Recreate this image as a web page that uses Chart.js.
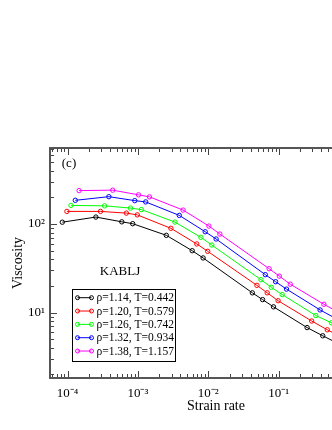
<!DOCTYPE html>
<html><head><meta charset="utf-8">
<script src="https://cdn.jsdelivr.net/npm/chart.js@4"></script>
<style>html,body{margin:0;padding:0;background:#fff;overflow:hidden;width:332px;height:430px}canvas{display:block}</style>
</head><body><canvas id="c" width="390" height="430"></canvas>
<script>
const seriesLabels = ['ρ=1.14, T=0.442','ρ=1.20, T=0.579','ρ=1.26, T=0.742','ρ=1.32, T=0.934','ρ=1.38, T=1.157'];
const seriesColors = ['#000000','#ff0000','#00ff00','#0000ff','#ff00ff'];

const rate114 = [8.43e-5, 2.53e-4, 5.9e-4, 8.43e-4, 2.53e-3, 5.9e-3, 8.43e-3, 4.22e-2, 5.9e-2, 8.43e-2, 0.253, 0.422, 0.843];
const visc114 = [105, 120, 106, 101, 74.6, 50.0, 41.4, 16.7, 14.0, 11.6, 6.76, 5.46, 4.14];

const rate120 = [9.8e-5, 2.94e-4, 6.86e-4, 9.8e-4, 2.94e-3, 6.86e-3, 9.8e-3, 4.9e-2, 6.86e-2, 9.8e-2, 0.294, 0.49, 0.98];
const visc120 = [139, 139, 133, 127, 89.5, 59.6, 49.2, 20.3, 16.7, 13.6, 8.02, 6.38, 4.83];

const rate126 = [1.12e-4, 3.36e-4, 7.84e-4, 1.12e-3, 3.36e-3, 7.84e-3, 1.12e-2, 5.6e-2, 7.84e-2, 0.112, 0.336, 0.56, 1.12];
const visc126 = [162.5, 160.7, 151.5, 145.7, 105.3, 70.8, 57.9, 23.5, 19.3, 15.96, 9.25, 7.66, 5.75];

const rate132 = [1.29e-4, 3.87e-4, 9.03e-4, 1.29e-3, 3.87e-3, 9.03e-3, 1.29e-2, 6.45e-2, 9.03e-2, 0.129, 0.387, 0.645, 1.29];
const visc132 = [185.5, 204, 184, 178, 125.3, 81.9, 67.8, 26.8, 22.3, 18.4, 10.7, 8.57, 6.52];

const rate138 = [1.46e-4, 4.38e-4, 1.02e-3, 1.46e-3, 4.38e-3, 1.02e-2, 1.46e-2, 7.3e-2, 0.102, 0.146, 0.438, 0.73, 1.46];
const visc138 = [239, 241.6, 214, 203, 143.9, 94.9, 77.1, 31.3, 25.8, 20.9, 12.4, 9.92, 7.53];

const rates = [rate114, rate120, rate126, rate132, rate138];
const viscs = [visc114, visc120, visc126, visc132, visc138];

const xDecades = [-4, -3, -2, -1, 0];
const xDecadeLabels = ['10⁻⁴', '10⁻³', '10⁻²', '10⁻¹', '10⁰'];
const yDecades = [0, 1, 2];
const yDecadeLabels = ['10⁰', '10¹', '10²'];

const serif = 'Liberation Serif';

function logTicks(scale) {
  const t = [];
  for (let e = -6; e <= 3; e++) {
    for (let m = 1; m <= 9; m++) {
      const v = m * Math.pow(10, e);
      if (v >= scale.min * 0.999999 && v <= scale.max * 1.000001) t.push({ value: v });
    }
  }
  scale.ticks = t;
}
function isDecade(v) {
  const l = Math.log10(v);
  return Math.abs(l - Math.round(l)) < 1e-6;
}

const datasets = rates.map((r, i) => ({
  label: seriesLabels[i],
  data: r.map((x, j) => ({ x: x, y: viscs[i][j] })),
  borderColor: seriesColors[i],
  backgroundColor: 'rgba(0,0,0,0)',
  borderWidth: 1,
  pointRadius: 2.2,
  pointBorderWidth: 1,
  pointStyle: 'circle',
  tension: 0,
  showLine: true
}));

const decor = {
  id: 'decor',
  afterDraw(chart) {
    const ctx = chart.ctx;
    const a = chart.chartArea;
    const xs = chart.scales.x, ys = chart.scales.y;
    ctx.save();
    ctx.strokeStyle = '#444';
    ctx.lineWidth = 1;
    ctx.beginPath();
    xs.ticks.forEach(t => {
      const px = Math.round(xs.getPixelForValue(t.value)) + 0.5;
      const L = isDecade(t.value) ? 7 : 4;
      ctx.moveTo(px, a.bottom); ctx.lineTo(px, a.bottom - L);
      ctx.moveTo(px, a.top); ctx.lineTo(px, a.top + L);
    });
    ys.ticks.forEach(t => {
      const py = Math.round(ys.getPixelForValue(t.value)) + 0.5;
      const L = isDecade(t.value) ? 7 : 4;
      ctx.moveTo(a.left, py); ctx.lineTo(a.left + L, py);
      ctx.moveTo(a.right, py); ctx.lineTo(a.right - L, py);
    });
    ctx.stroke();
    ctx.strokeStyle = '#555';
    ctx.lineWidth = 2;
    ctx.strokeRect(a.left, a.top, a.right - a.left, a.bottom - a.top);

    ctx.fillStyle = '#000';
    ctx.textAlign = 'center';
    ctx.textBaseline = 'middle';
    ctx.font = '13px "' + serif + '"';
    ctx.fillText('(c)', a.left + 19, a.top + 16);
    ctx.fillText('KABLJ', a.left + 70, a.top + 124);

    const bx = 72.5, by = 289.5, bw = 103, bh = 72;
    ctx.fillStyle = '#fff';
    ctx.fillRect(bx, by, bw, bh);
    ctx.strokeStyle = '#000';
    ctx.lineWidth = 1;
    ctx.strokeRect(bx, by, bw, bh);
    ctx.font = '11.5px "' + serif + '"';
    ctx.textAlign = 'left';
    chart.data.datasets.forEach((d, i) => {
      const y = 297.7 + i * 13.33;
      ctx.strokeStyle = d.borderColor;
      ctx.lineWidth = 1;
      ctx.beginPath();
      ctx.moveTo(77.5, y); ctx.lineTo(91.5, y);
      ctx.stroke();
      [77.5, 91.5].forEach(cx => {
        ctx.beginPath();
        ctx.arc(cx, y, 2, 0, Math.PI * 2);
        ctx.stroke();
      });
      ctx.fillStyle = '#000';
      ctx.fillText(d.label, 96.5, y + 0.5);
    });
    ctx.restore();
  }
};

new Chart(document.getElementById('c'), {
  type: 'line',
  data: { datasets: datasets },
  options: {
    responsive: false,
    animation: false,
    devicePixelRatio: 1,
    layout: { padding: { top: 148, right: 8, left: 0, bottom: 0 } },
    plugins: { legend: { display: false }, tooltip: { enabled: false } },
    scales: {
      x: {
        type: 'logarithmic',
        position: 'bottom',
        min: 5.64e-5,
        max: 2.93,
        afterBuildTicks: logTicks,
        ticks: {
          autoSkip: false, maxRotation: 0, minRotation: 0, padding: 8,
          color: '#000', font: { family: serif, size: 13 },
          callback: function (v) {
            if (!isDecade(v)) return '';
            const i = xDecades.indexOf(Math.round(Math.log10(v)));
            return i >= 0 ? xDecadeLabels[i] : '';
          }
        },
        grid: { display: false, drawTicks: false },
        border: { display: false },
        title: { display: true, text: 'Strain rate', color: '#000', font: { family: serif, size: 14 }, padding: { top: 0, bottom: 15 } },
        afterFit: function (s) { s.height = 52; s.paddingLeft = 0; s.paddingRight = 0; }
      },
      y: {
        type: 'logarithmic',
        position: 'left',
        min: 1.82,
        max: 724,
        afterBuildTicks: logTicks,
        ticks: {
          autoSkip: false, padding: 5,
          color: '#000', font: { family: serif, size: 13 },
          callback: function (v) {
            if (!isDecade(v)) return '';
            const i = yDecades.indexOf(Math.round(Math.log10(v)));
            return i >= 0 ? yDecadeLabels[i] : '';
          }
        },
        grid: { display: false, drawTicks: false },
        border: { display: false },
        title: { display: true, text: 'Viscosity', color: '#000', font: { family: serif, size: 14 }, padding: { top: 10, bottom: 0 } },
        afterFit: function (s) { s.width = 50; s.paddingTop = 0; s.paddingBottom = 0; }
      }
    }
  },
  plugins: [decor]
});
</script>
</body></html>
